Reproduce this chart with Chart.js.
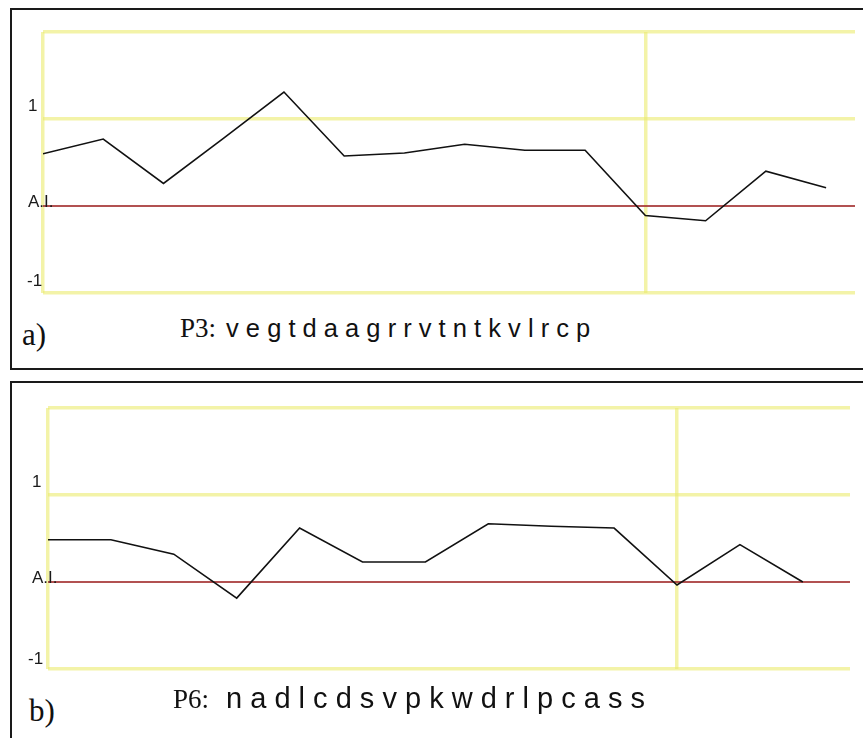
<!DOCTYPE html>
<html>
<head>
<meta charset="utf-8">
<script src="https://cdn.jsdelivr.net/npm/chart.js@4.4.0/dist/chart.umd.min.js"></script>
<style>
  body { margin:0; background:#fff; width:863px; height:738px; overflow:hidden; position:relative; }
  .box { position:absolute; border:2px solid #1a1a1a; box-sizing:border-box; }
  canvas { position:absolute; }
  .seq { position:absolute; font-family:"Liberation Sans", Arial, sans-serif; line-height:30px; color:#111; white-space:nowrap; }
  .seq .tag { font-family:"Liberation Serif", "Times New Roman", serif; font-size:27px; line-height:0; }
  .panel { position:absolute; font-family:"Liberation Serif", "Times New Roman", serif; font-size:31px; line-height:30px; color:#111; }
</style>
</head>
<body>
<div class="box" style="left:10px;top:8px;width:870px;height:362px"></div>
<div class="box" style="left:10px;top:381px;width:870px;height:400px"></div>

<canvas id="chartA" width="848" height="300" style="left:12px;top:11px"></canvas>
<canvas id="chartB" width="848" height="300" style="left:12px;top:385px"></canvas>

<div class="panel" style="left:22px;top:320px">a)</div>
<div class="seq" style="left:180px;top:313px;font-size:25.5px"><span class="tag">P3:</span><span style="margin-left:10px">v e g t d a a g r r v t n t k v l r c p</span></div>

<div class="panel" style="left:29px;top:696px">b)</div>
<div class="seq" style="left:173px;top:683px;font-size:29px"><span class="tag">P6:</span><span style="margin-left:17px">n a d l c d s v p k w d r l p c a s s</span></div>

<script>
// window positions along the peptide
const xA = [0, 1, 2, 3, 4, 5, 6, 7, 8, 9, 10, 11, 12, 13];
const p3 = [0.60, 0.77, 0.26, 0.78, 1.31, 0.575, 0.61, 0.71, 0.64, 0.64, -0.11, -0.17, 0.40, 0.21];

const xB = [0, 1, 2, 3, 4, 5, 6, 7, 8, 9, 10, 11, 12];
const p6 = [0.485, 0.485, 0.32, -0.185, 0.62, 0.23, 0.23, 0.67, 0.64, 0.62, -0.035, 0.43, 0.0];

const yTicks = [-1, 0, 1, 2];
const yTickLabels = ['-1', 'A.I.', '1', ''];
const xMarks = [0, 10];

const YELLOW = 'rgba(235, 235, 110, 0.6)';
const RED = 'rgba(165, 50, 50, 0.85)';

const axisLabels = {
  id: 'axisLabels',
  afterDraw(chart, args, opts) {
    const y = chart.scales.y, ctx = chart.ctx, left = chart.chartArea.left;
    ctx.save();
    ctx.font = '17px "Liberation Sans", Arial, sans-serif';
    ctx.fillStyle = '#1a1a1a';
    ctx.textBaseline = 'middle';
    yTicks.forEach((v, i) => {
      ctx.fillText(yTickLabels[i], left + opts.dx[i], y.getPixelForValue(v) + opts.dy[i]);
    });
    ctx.restore();
  }
};

function makeChart(id, xs, ys, xMax, yWidth, padding, labelPos) {
  new Chart(document.getElementById(id), {
    type: 'line',
    data: {
      datasets: [{
        data: xs.map((x, i) => ({ x: x, y: ys[i] })),
        borderColor: '#111',
        borderWidth: 1.6,
        pointRadius: 0,
        tension: 0,
        fill: false
      }]
    },
    options: {
      responsive: false,
      animation: false,
      layout: { padding: padding },
      plugins: {
        legend: { display: false },
        tooltip: { enabled: false },
        axisLabels: labelPos
      },
      scales: {
        x: {
          type: 'linear',
          min: 0,
          max: xMax,
          afterBuildTicks: (axis) => { axis.ticks = xMarks.map(v => ({ value: v })); },
          afterFit: (axis) => { axis.height = 0; },
          ticks: { display: false },
          grid: { color: YELLOW, lineWidth: 3.5, drawTicks: false },
          border: { display: false }
        },
        y: {
          min: -1,
          max: 2,
          afterBuildTicks: (axis) => { axis.ticks = yTicks.map(v => ({ value: v })); },
          afterFit: (axis) => { axis.width = yWidth; },
          ticks: { display: false },
          grid: {
            color: (c) => c.tick && c.tick.value === 0 ? RED : YELLOW,
            lineWidth: (c) => c.tick && c.tick.value === 0 ? 2 : 3.5,
            drawTicks: false
          },
          border: { display: false }
        }
      }
    },
    plugins: [axisLabels]
  });
}

makeChart('chartA', xA, p3, 13.48, 31, { left: 0, top: 21, right: 5, bottom: 18 },
  { dx: [-16, -15, -15, 0], dy: [-12, -3.5, -12.5, 0] });
makeChart('chartB', xB, p6, 12.75, 36, { left: 0, top: 23, right: 10, bottom: 16 },
  { dx: [-20, -16, -16, 0], dy: [-10, -4, -13, 0] });
</script>
</body>
</html>
